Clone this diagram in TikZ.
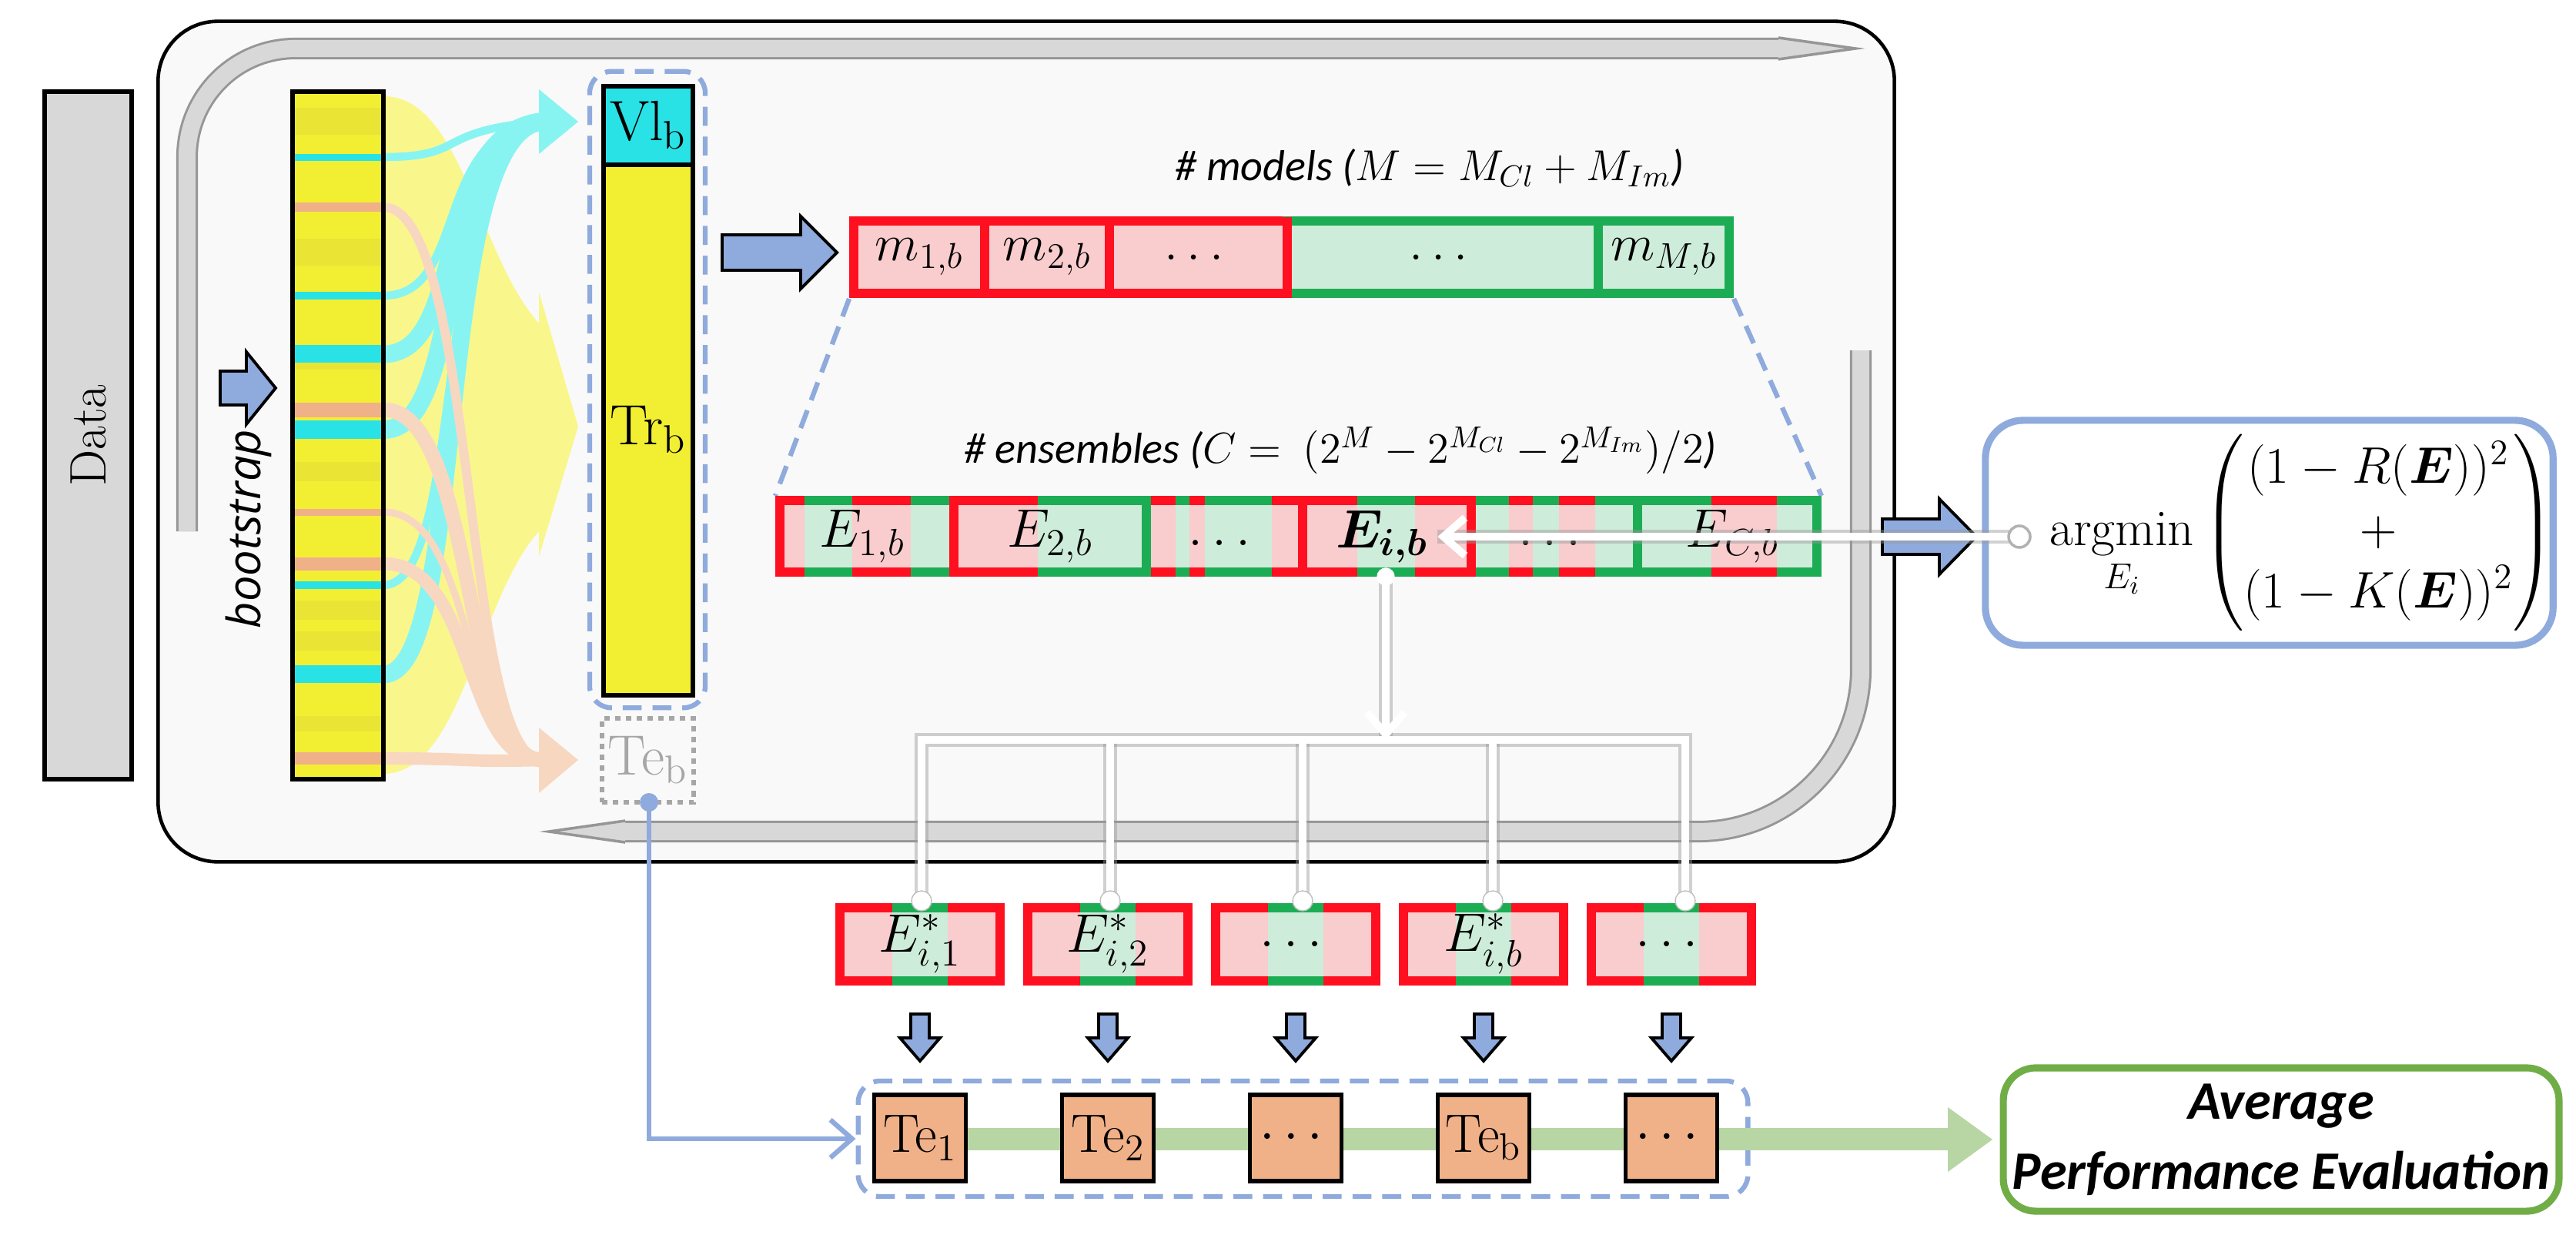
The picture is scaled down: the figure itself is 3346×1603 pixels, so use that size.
\documentclass[tikz,border=0pt]{standalone}
\usepackage{fix-cm}
\usepackage{amsmath}
\usepackage{fontspec}
\newfontfamily\calib{Carlito}
\newfontfamily\osans{Open Sans}
\usetikzlibrary{arrows.meta}
\definecolor{rdark}{RGB}{255,16,32}
\definecolor{rlight}{RGB}{249,204,206}
\definecolor{gdark}{RGB}{28,173,84}
\definecolor{glight}{RGB}{206,236,218}
\definecolor{bluearr}{RGB}{143,170,220}
\definecolor{yel}{RGB}{242,238,50}
\definecolor{yeld}{RGB}{234,228,52}
\definecolor{yel2}{RGB}{249,247,140}
\definecolor{cyn}{RGB}{40,226,230}
\definecolor{cyn2}{RGB}{136,244,242}
\definecolor{sal}{RGB}{240,176,136}
\definecolor{sal2}{RGB}{248,215,192}
\definecolor{bg}{RGB}{249,249,249}
\definecolor{gband}{RGB}{184,214,164}
\definecolor{avgc}{RGB}{112,173,71}
\definecolor{bandc}{RGB}{216,216,216}
\definecolor{bando}{RGB}{150,150,150}
\newcommand\stp[3]{\fill[#3dark] (#1,644) rectangle (#2,749); \fill[#3light] (#1,656) rectangle (#2,737);}
\newcommand\vsep[2]{\fill[#2dark] (#1-6,644) rectangle (#1+6,749);}
\newcommand\rarr[6]{\draw[barrow] (#1,#3-#4) -- (#2-#6,#3-#4) -- (#2-#6,#3-#5) -- (#2,#3) -- (#2-#6,#3+#5) -- (#2-#6,#3+#4) -- (#1,#3+#4) -- cycle;}
\newcommand\darr[1]{\draw[barrow] (#1-12,1317) -- (#1+12,1317) -- (#1+12,1348) -- (#1+26,1348) -- (#1,1378) -- (#1-26,1348) -- (#1-12,1348) -- cycle;}
\newcommand\estar[2]{%
 \fill[rdark] (#1-110,1173) rectangle (#1+110,1280);
 \fill[rlight] (#1-98,1185) rectangle (#1+98,1268);
 \fill[gdark] (#1-36,1173) rectangle (#1+36,1280);
 \fill[glight] (#1-36,1185) rectangle (#1+36,1268);
 \node (#2) at (#1,1226) {};}
\tikzset{
 barrow/.style={fill=bluearr, draw=black, line width=1.1pt, line join=miter},
 blk/.style={draw=black, line width=1.6pt, inner sep=0pt, outer sep=0pt},
 mcell/.style={line width=3.4pt, inner sep=0pt, outer sep=0pt, minimum height=0.94cm, font=\fontsize{19}{22}\selectfont},
 wline/.style={white, line width=2.8pt},
 wshadow/.style={black!40, line width=5.2pt, opacity=.45},
 lbl/.style={font=\fontsize{20}{24}\selectfont},
 bdash/.style={draw=bluearr, line width=1.8pt, dash pattern=on 7pt off 4pt},
}
\begin{document}
\begin{tikzpicture}[x=0.01cm,y=-0.01cm]
\path[use as bounding box, fill=white] (0,0) rectangle (3346,1603);
% main container
\node[draw=black, line width=1.3pt, fill=bg, rounded corners=22pt, minimum width=22.54cm, minimum height=10.91cm, inner sep=0pt, outer sep=0pt] (frame) at (1333,573.5) {};
% gray loop bands
\draw[bando, line width=8pt, rounded corners=40] (243,690) -- (243,63) -- (2310,63);
\draw[bandc, line width=6.3pt, rounded corners=40] (243,690) -- (243,63) -- (2310,63);
\fill[bandc] (2310,49) -- (2410,63) -- (2310,77) -- cycle;
\draw[bando, line width=1pt] (2310,49) -- (2410,63) -- (2310,77);
\draw[bando, line width=8pt, rounded corners=60] (2417,455) -- (2417,1080) -- (812,1080);
\draw[bandc, line width=6.3pt, rounded corners=60] (2417,455) -- (2417,1080) -- (812,1080);
\fill[bandc] (812,1066) -- (713,1080) -- (812,1094) -- cycle;
\draw[bando, line width=1pt] (812,1066) -- (713,1080) -- (812,1094);
% Data
\node[blk, fill=bandc, minimum width=1.13cm, minimum height=8.93cm] (data) at (114.5,565.5) {};
\node[rotate=90, font=\fontsize{19}{22}\selectfont] (datat) at (data.center) {Data};
% bootstrap arrow
\rarr{286}{358}{504}{22}{47}{38}
\node[rotate=90, font=\osans\itshape\fontsize{17}{20}\selectfont] (boot) at (323,687) {bootstrap};
% yellow fan
\fill[yel2] (498,125) .. controls (600,125) and (620,330) .. (700,420) -- (700,379) -- (751,554) -- (700,723) -- (700,690) .. controls (620,780) and (600,1005) .. (498,1005) -- cycle;
% cyan flows
\foreach \y/\w in {204/3, 384/3, 460/6.5, 558/6.8, 760/3, 876/6.5}
 \draw[cyn2, line width=\w pt] (498,\y) .. controls (610,\y) and (560,170) .. (705,158);
\fill[cyn2] (700,116) -- (751,158) -- (700,200) -- cycle;
% salmon flows
\foreach \y/\w in {269/3.4, 532/5.4, 665/2.6, 732/4.8, 985/4.6}
 \draw[sal2, line width=\w pt] (498,\y) .. controls (620,\y) and (600,990) .. (705,987);
\fill[sal2] (700,945) -- (751,987) -- (700,1030) -- cycle;
% bootstrap bar
\fill[yel] (380,119) rectangle (498,1012);
\foreach \a/\b in {140/175, 310/345, 455/480, 600/625, 780/805, 820/845, 930/950}
 \fill[yeld] (380,\a) rectangle (498,\b);
\foreach \a/\b in {200/209, 379/389, 448/471, 546/570, 755/765, 864/887}
 \fill[cyn] (380,\a) rectangle (498,\b);
\foreach \a/\b in {263/275, 523/542, 661/670, 724/741, 977/993}
 \fill[sal] (380,\a) rectangle (498,\b);
\node[blk, minimum width=1.18cm, minimum height=8.93cm] (bar) at (439,565.5) {};
% Vl / Tr / Te_b
\node[bdash, rounded corners=8pt, minimum width=1.5cm, minimum height=8.26cm, inner sep=0pt] (vtbox) at (841,506) {};
\node[blk, fill=cyn, minimum width=1.16cm, minimum height=1.02cm, font=\fontsize{21}{24}\selectfont] (vl) at (842,163) {Vl\textsubscript{b}};
\node[blk, fill=yel, minimum width=1.16cm, minimum height=6.89cm, font=\fontsize{21}{24}\selectfont] (tr) at (842,558.5) {Tr\textsubscript{b}};
\node[draw=black!35, dash pattern=on 2pt off 2pt, line width=1.5pt, text=black!35, minimum width=1.19cm, minimum height=1.09cm, inner sep=0pt, font=\fontsize{21}{24}\selectfont] (teb) at (841.5,987.5) {Te\textsubscript{b}};
% arrow to models
\rarr{938}{1087}{328}{23}{47}{47}
% models text
\node[font=\calib\itshape\fontsize{16}{19}\selectfont] (mtext) at (1857,218) {\# models ($M = M_{Cl} + M_{Im}$)};
% models row
\node[mcell, draw=rdark, fill=rlight, minimum width=1.70cm] (m1) at (1194,334) {$m_{1,b}$};
\node[mcell, draw=rdark, fill=rlight, minimum width=1.62cm] (m2) at (1360,334) {$m_{2,b}$};
\node[mcell, draw=rdark, fill=rlight, minimum width=2.31cm] (m3) at (1556.5,334) {$\dots$};
\node[mcell, draw=gdark, fill=glight, minimum width=4.04cm] (m4) at (1874,334) {$\dots$};
\node[mcell, draw=gdark, fill=glight, minimum width=1.70cm] (mM) at (2161,334) {$m_{M,b}$};
\draw[rdark, line width=3.4pt] (1672,281.5) -- (1672,386.5);
% trapezoid
\coordinate (tl) at (1007,644); \coordinate (tr2) at (2366,644);
\draw[bdash] (1103,388) -- (tl);
\draw[bdash] (2252,388) -- (tr2);
% ensembles text
\node[font=\calib\itshape\fontsize{16}{19}\selectfont] (etext) at (1741,585) {\# ensembles ($C =\ (2^M - 2^{M_{Cl}} - 2^{M_{Im}})/2$)};
% ensembles row stripes
\stp{1007}{1045}{r}\stp{1045}{1107}{g}\stp{1107}{1183}{r}\stp{1183}{1239}{g}
\stp{1239}{1348}{r}\stp{1348}{1489}{g}
\stp{1489}{1527}{r}\stp{1527}{1545}{g}\stp{1545}{1565}{r}\stp{1565}{1652}{g}\stp{1652}{1692}{r}
\stp{1692}{1763}{r}\stp{1763}{1838}{g}\stp{1838}{1911}{r}
\stp{1911}{1960}{g}\stp{1960}{1991}{r}\stp{1991}{2025}{g}\stp{2025}{2072}{r}\stp{2072}{2127}{g}
\stp{2127}{2223}{g}\stp{2223}{2308}{r}\stp{2308}{2366}{g}
\fill[rdark] (1007,644) rectangle (1019,749);
\vsep{1239}{r}\vsep{1489}{g}\vsep{1692}{r}\vsep{1911}{r}\vsep{2127}{g}
\fill[gdark] (2354,644) rectangle (2366,749);
\node[lbl] (e1) at (1120,697) {$E_{1,b}$};
\node[lbl] (e2) at (1364,697) {$E_{2,b}$};
\node[lbl] (e3) at (1590,705) {$\dots$};
\node[lbl] (eib) at (1795,697) {$\boldsymbol{E_{i,b}}$};
\node[lbl] (e5) at (2019,705) {$\dots$};
\node[lbl] (ec) at (2250,697) {$E_{C,b}$};
% argmin
\rarr{2445}{2567}{697}{23}{49}{48}
\node[draw=bluearr, line width=2.6pt, rounded corners=14pt, minimum width=7.37cm, minimum height=2.92cm, inner sep=0pt] (amin) at (2947.5,692) {};
\node[font=\fontsize{19}{23}\selectfont, anchor=west] (aminT) at (2650,692) {$\displaystyle\operatorname*{argmin}_{E_i}\begin{pmatrix}(1-R(\boldsymbol{E}))^2\\+\\(1-K(\boldsymbol{E}))^2\end{pmatrix}$};
\coordinate (adot) at (2623,697);
\draw[wshadow] (adot) -- (eib.east);
\draw[wline, -{Straight Barb[length=8pt,width=14pt]}] (adot) -- (eib.east);
\filldraw[fill=white, draw=black!30, line width=1pt] (adot) circle (14);
% E* boxes
\estar{1195}{s1}\estar{1439}{s2}\estar{1683}{s3}\estar{1927}{s4}\estar{2171}{s5}
\node[lbl] at (s1) {$E^*_{i,1}$};
\node[lbl] at (s2) {$E^*_{i,2}$};
\node[lbl] at (s3) {$\dots$};
\node[lbl] at (s4) {$E^*_{i,b}$};
\node[lbl] at (s5) {$\dots$};
% bracket
\coordinate (eibb) at (1800,749);
\coordinate (brk) at (1800,961);
\draw[wshadow] (eibb) -- (brk);
\draw[wshadow] (1197,1173) -- (1197,961) -- (2189,961) -- (2189,1173);
\foreach \x in {1442,1692,1939} \draw[wshadow] (\x,961) -- (\x,1173);
\draw[wline] (1197,1173) -- (1197,961) -- (2189,961) -- (2189,1173);
\foreach \x in {1442,1692,1939} \draw[wline] (\x,961) -- (\x,1173);
\draw[wline, -{Straight Barb[length=8pt,width=14pt]}] (eibb) -- (brk);
\filldraw[fill=white, draw=white] (eibb) circle (11);
\foreach \x in {1197,1442,1692,1939,2189} \filldraw[fill=white, draw=black!25] (\x,1170) circle (13);
% down arrows
\darr{1195}\darr{1439}\darr{1683}\darr{1927}\darr{2171}
% test band
\node[bdash, rounded corners=8pt, minimum width=11.55cm, minimum height=1.5cm, inner sep=0pt] (tbox) at (1692.5,1479) {};
\fill[gband] (1195,1465) rectangle (2530,1494);
\fill[gband] (2530,1438) -- (2588,1480) -- (2530,1522) -- cycle;
\foreach \x/\n/\t in {1195/t1/{Te\textsubscript{1}}, 1439/t2/{Te\textsubscript{2}}, 1683/t3/{$\cdots$}, 1927/t4/{Te\textsubscript{b}}, 2171/t5/{$\cdots$}}
 \node[blk, fill=sal, minimum width=1.19cm, minimum height=1.12cm, font=\fontsize{20}{24}\selectfont] (\n) at (\x,1478) {\t};
\node[draw=avgc, line width=2.6pt, rounded corners=12pt, minimum width=7.18cm, minimum height=1.86cm, align=center, font=\calib\bfseries\itshape\fontsize{20}{26}\selectfont] (avg) at (2963,1480) {Average\\Performance Evaluation};
% Te_b link
\coordinate (tdot) at (843,1042);
\draw[bluearr, line width=1.8pt, -{Straight Barb[length=8pt,width=14pt]}] (tdot) -- (843,1479) -- (tbox.west);
\fill[bluearr] (tdot) circle (12);
\end{tikzpicture}
\end{document}
